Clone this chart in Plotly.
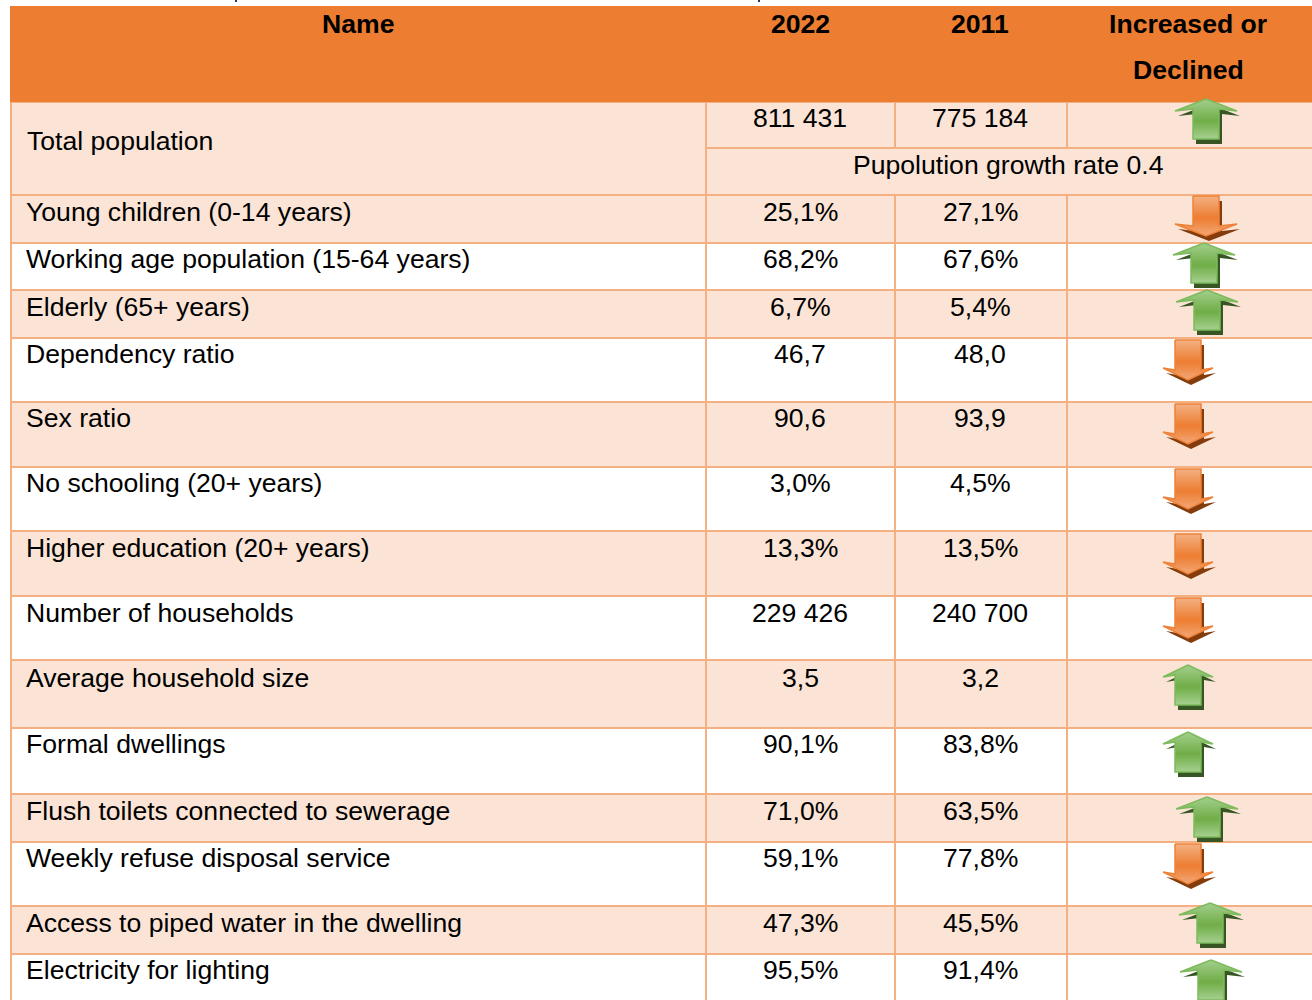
import plotly.graph_objects as go

# ---- data ----
header = ["Name", "2022", "2011", "Increased or", "Declined"]
names = ["Young children (0-14 years)", "Working age population (15-64 years)", "Elderly (65+ years)",
         "Dependency ratio", "Sex ratio", "No schooling (20+ years)", "Higher education (20+ years)",
         "Number of households", "Average household size", "Formal dwellings",
         "Flush toilets connected to sewerage", "Weekly refuse disposal service",
         "Access to piped water in the dwelling", "Electricity for lighting"]
v2022 = ["25,1%", "68,2%", "6,7%", "46,7", "90,6", "3,0%", "13,3%", "229 426", "3,5", "90,1%", "71,0%", "59,1%", "47,3%", "95,5%"]
v2011 = ["27,1%", "67,6%", "5,4%", "48,0", "93,9", "4,5%", "13,5%", "240 700", "3,2", "83,8%", "63,5%", "77,8%", "45,5%", "91,4%"]
trend = ["down", "up", "up", "down", "down", "down", "down", "down", "up", "up", "up", "down", "up", "up"]

# ---- layout of the table ----
X0, X1, X2, X3, X4 = 10, 706, 895, 1067, 1312
row_tops = [195, 243, 290, 338, 402, 467, 531, 596, 660, 728, 794, 842, 906, 954, 1012]
text_y = [212, 259, 307, 354, 418, 483, 548, 613, 678, 744, 811, 858, 923, 970]
shaded = [True, False, True, False, True, False, True, False, True, False, True, False, True, False]
arrow_x = [1206, 1204, 1207, 1188, 1188, 1188, 1188, 1188, 1188, 1188, 1207, 1188, 1210, 1211]
arrow_top = [196, 243, 290, 340, 404, 469, 534, 598, 665, 732, 797, 844, 903, 960]
arrow_hw = [31, 31, 31, 25, 25, 25, 25, 25, 25, 25, 31, 25, 31, 31]
top_arrow = (1206, 99, 31)

ORANGE, PEACH, LINE = "#ED7D31", "#FBE4D5", "#F4B083"
FONT = "Liberation Sans"
FS = 26.6

shapes, ann = [], []
def rect(x0, y0, x1, y1, fill, line=LINE, w=2):
    shapes.append(dict(type="rect", x0=x0, y0=y0, x1=x1, y1=y1, fillcolor=fill,
                       line=dict(color=line, width=w), layer="below"))
def text(x, y, s, anchor="center", bold=False):
    ann.append(dict(x=x, y=y, text=f"<b>{s}</b>" if bold else s, xanchor=anchor, yanchor="middle",
                    showarrow=False, font=dict(family=FONT, size=FS, color="#000"), align="center"))

# total-population block
rect(X0 + 1, 102, X1, 195, PEACH)
rect(X1, 102, X2, 148, PEACH)
rect(X2, 102, X3, 148, PEACH)
rect(X3, 102, X4 + 5, 148, PEACH)
rect(X1, 148, X4 + 5, 195, PEACH)
text(24.5, 141, "Total population", "left")
text(800, 118, "811 431")
text(980, 118, "775 184")
text(1008, 165, "Pupolution growth rate 0.4")

# body rows
for i, n in enumerate(names):
    t, b = row_tops[i], row_tops[i + 1]
    fill = PEACH if shaded[i] else "#FFFFFF"
    rect(X0 + 1, t, X1, b, fill)
    rect(X1, t, X2, b, fill)
    rect(X2, t, X3, b, fill)
    rect(X3, t, X4 + 5, b, fill)
    text(23.5, text_y[i], n, "left")
    text(800, text_y[i], v2022[i])
    text(980, text_y[i], v2011[i])

# header band
shapes.append(dict(type="rect", x0=X0, y0=6, x1=X4 + 5, y1=102, fillcolor=ORANGE, line=dict(width=0), layer="below"))
text(358, 24, header[0], bold=True)
text(800, 24, header[1], bold=True)
text(980, 24, header[2], bold=True)
text(1188, 24, header[3], bold=True)
text(1188, 70, header[4], bold=True)

# tiny marks left by the clipped caption at the very top edge
for px in [236, 759]:
    shapes.append(dict(type="rect", x0=px - 1, y0=0, x1=px + 1, y1=2, fillcolor="#1F3864", line=dict(width=0), layer="above"))

fig = go.Figure()

def grad(c_top, c_mid, c_bot):
    return dict(type="vertical", colorscale=[[0, c_bot], [0.45, c_mid], [1, c_top]])

def arrow(cx, top, hw, up):
    H, sw, hh = 40, 13, 12
    if up:
        xs = [cx, cx + hw, cx + sw, cx + sw, cx - sw, cx - sw, cx - hw, cx]
        ys = [top, top + hh, top + hh - 2, top + H, top + H, top + hh - 2, top + hh, top]
        dark, edge = "#375623", "#7DBB5C"
        g = grad("#A3CF8D", "#70AD47", "#A6D090")
    else:
        xs = [cx - sw, cx + sw, cx + sw, cx + hw, cx, cx - hw, cx - sw, cx - sw]
        ys = [top, top, top + H - hh + 2, top + H - hh, top + H, top + H - hh, top + H - hh + 2, top]
        dark, edge = "#843C0C", "#EE8239"
        g = grad("#F4B083", "#ED7D31", "#F3A877")
    fig.add_trace(go.Scatter(x=[v + 3 for v in xs], y=[v + 5 for v in ys], mode="lines", fill="toself",
                             fillcolor=dark, line=dict(color=dark, width=0), hoverinfo="skip", showlegend=False))
    fig.add_trace(go.Scatter(x=xs, y=ys, mode="lines", fill="toself", fillgradient=g,
                             line=dict(color=edge, width=1.5), hoverinfo="skip", showlegend=False))

arrow(top_arrow[0], top_arrow[1], top_arrow[2], True)
for i, d in enumerate(trend):
    arrow(arrow_x[i], arrow_top[i], arrow_hw[i], d == "up")

fig.update_layout(width=1312, height=1000, margin=dict(l=0, r=0, t=0, b=0), paper_bgcolor="#FFFFFF",
                  plot_bgcolor="#FFFFFF", shapes=shapes, annotations=ann, showlegend=False,
                  xaxis=dict(range=[0, 1312], visible=False, fixedrange=True),
                  yaxis=dict(range=[1000, 0], visible=False, fixedrange=True))
fig.write_html("out.html", config=dict(displayModeBar=False),
               post_script="document.body.style.margin='0';document.body.style.overflow='hidden';")
